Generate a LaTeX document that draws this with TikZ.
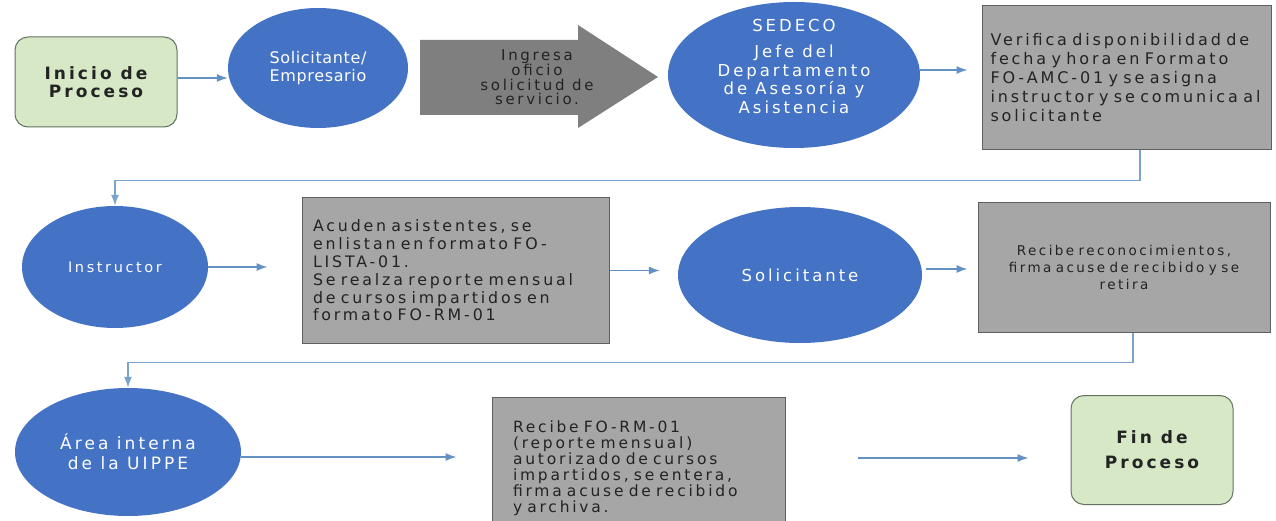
\documentclass[tikz,border=0pt]{standalone}
\usepackage{fontspec}
\setmainfont{DejaVu Sans}[LetterSpace=18]
\usetikzlibrary{shapes.geometric,arrows.meta}
\definecolor{cblue}{RGB}{68,114,196}
\definecolor{cdgray}{RGB}{127,127,127}
\definecolor{cgray}{RGB}{166,166,166}
\definecolor{cgrayb}{RGB}{95,95,95}
\definecolor{cgreen}{RGB}{214,232,198}
\definecolor{cgreenb}{RGB}{100,115,95}
\definecolor{cline}{RGB}{100,145,195}
\definecolor{ctext}{RGB}{35,35,35}
\begin{document}
\begin{tikzpicture}[x=1pt,y=-1pt,
  circ/.style={ellipse, fill=cblue, draw=none, text=white, inner sep=0pt, align=center},
  gbox/.style={rectangle, fill=cgray, draw=cgrayb, line width=1pt, text=ctext, inner sep=0pt},
  term/.style={rectangle, rounded corners=13pt, fill=cgreen, draw=cgreenb, line width=1pt, text=ctext, align=center, inner sep=0pt},
  arr/.style={draw=cline, line width=1.3pt, -{Latex[length=11pt,width=8pt]}},
  link/.style={draw=cline!85, line width=1.5pt, -{Latex[length=11pt,width=8pt]}}
]
\clip (0,0) rectangle (1276,521);
\fill[white] (0,0) rectangle (1276,521);

% Row 1
\node[term, minimum width=162pt, minimum height=90pt, font=\fontsize{17}{18.5}\selectfont\bfseries] (inicio) at (96,82) {Inicio de\\Proceso};
\node[circ, minimum width=180pt, minimum height=120pt, font=\fontsize{16}{18}\selectfont\addfontfeature{LetterSpace=4}] (sol1) at (318,68) {Solicitante/\\Empresario};
\fill[cdgray] (420,40) -- (578,40) -- (578,25) -- (658,77) -- (578,128) -- (578,115) -- (420,115) -- cycle;
\node[align=center, inner sep=0pt, text=ctext, font=\fontsize{15}{14.5}\selectfont] (ingresa) at (537,77) {Ingresa\\oficio\\solicitud de\\servicio.};
\node[circ, minimum width=252pt, minimum height=146pt] (sedeco) at (794,75) {};
\node[text=white, align=center, inner sep=0pt, font=\fontsize{16.5}{18.5}\selectfont] (sedecotxt) at (794,66) {SEDECO\\[8pt]Jefe del\\Departamento\\de Asesoría y\\Asistencia};
\node[gbox, minimum width=289pt, minimum height=144pt, text width=272pt, align=left, font=\fontsize{16}{19}\selectfont] (verifica) at (1126.5,78) {Verifica disponibilidad de\\fecha y hora en Formato\\FO-AMC-01 y se asigna\\instructor y se comunica al\\solicitante};

% Row 2
\node[circ, minimum width=186pt, minimum height=122pt, font=\fontsize{14.5}{17}\selectfont] (instr) at (115,267) {Instructor};
\node[gbox, minimum width=307pt, minimum height=145pt, text width=285pt, align=left, font=\fontsize{15.8}{17.8}\selectfont] (acuden) at (455.5,270.5) {Acuden asistentes, se\\enlistan en formato FO-\\LISTA-01.\\Se realza reporte mensual\\de cursos impartidos en\\formato FO-RM-01};
\node[circ, minimum width=244pt, minimum height=136pt, font=\fontsize{16.5}{18}\selectfont] (sol2) at (800,275) {Solicitante};
\node[gbox, minimum width=292pt, minimum height=129pt, text width=285pt, align=center, font=\fontsize{13.5}{17}\selectfont] (recibe) at (1124,267.5) {Recibe reconocimientos,\\firma acuse de recibido y se\\retira};

% Row 3
\node[circ, minimum width=226pt, minimum height=128pt, font=\fontsize{17}{20}\selectfont] (area) at (128,452) {Área interna\\de la UIPPE};
\node[gbox, minimum width=293pt, minimum height=143pt, text width=251pt, align=left, font=\fontsize{15.5}{16}\selectfont] (rfo) at (638.5,468.5) {Recibe FO-RM-01\\(reporte mensual)\\autorizado de cursos\\impartidos, se entera,\\firma acuse de recibido\\y archiva.};
\node[term, minimum width=162pt, minimum height=109pt, font=\fontsize{17}{25}\selectfont\bfseries] (fin) at (1152,450) {Fin de\\Proceso};

% Connectors
\draw[arr] ([yshift=4pt]inicio.east) -- ([yshift=4pt]inicio.east -| sol1.west);
\draw[arr, shorten >=14pt] ([yshift=5pt]sedeco.east) -- ([yshift=5pt]sedeco.east -| verifica.west);
\draw[link] ([xshift=13.5pt]verifica.south) -- ++(0,30) -| (instr.north);
\draw[arr, shorten >=34pt] (instr.east) -- (instr.east -| acuden.west);
\draw[arr, shorten >=18pt] (acuden.east) -- (acuden.east -| sol2.west);
\draw[arr, shorten <=4pt, shorten >=10pt] ([yshift=6pt]sol2.east) -- ([yshift=6pt]sol2.east -| recibe.west);
\draw[link] ([xshift=9pt]recibe.south) -- ++(0,30) -| (area.north);
\draw[arr, shorten >=35pt] ([yshift=-5pt]area.east) -- ([yshift=-5pt]area.east -| rfo.west);
\draw[arr, shorten <=72pt, shorten >=42pt] ([yshift=-8pt]fin.west -| rfo.east) -- ([yshift=-8pt]fin.west);
\end{tikzpicture}
\end{document}
